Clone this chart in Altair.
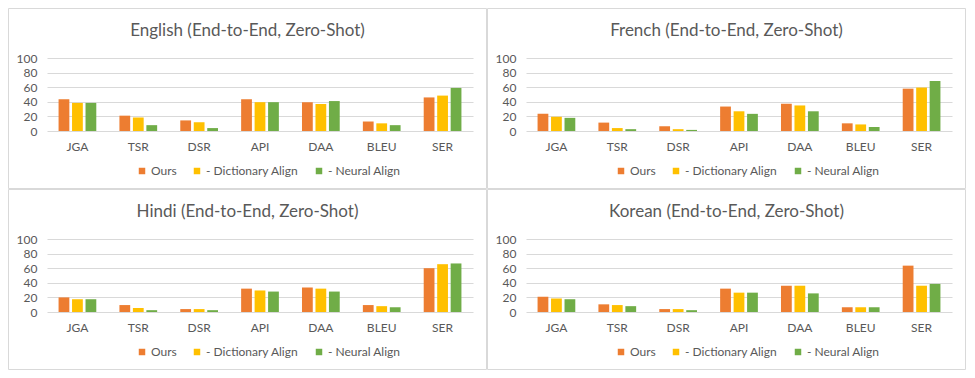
import altair as alt
import pandas as pd

metrics = ["JGA", "TSR", "DSR", "API", "DAA", "BLEU", "SER"]
series = ["Ours", "- Dictionary Align", "- Neural Align"]
colors = ["#ED7D31", "#FFC000", "#70AD47"]

titles = [
    "English (End-to-End, Zero-Shot)",
    "French (End-to-End, Zero-Shot)",
    "Hindi (End-to-End, Zero-Shot)",
    "Korean (End-to-End, Zero-Shot)",
]

english_ours = [43.5, 21, 14.5, 43.5, 39.5, 13, 46]
english_dict = [38.5, 18.5, 12, 39.5, 37, 10.5, 48.5]
english_neural = [38.5, 8, 4, 39.5, 41, 8, 59]

french_ours = [23.5, 11.5, 6.5, 33.5, 37.5, 10.5, 58]
french_dict = [19.5, 4, 2.5, 27, 35, 9, 59.5]
french_neural = [18, 2.5, 1.5, 23.5, 27, 5.5, 68.5]

hindi_ours = [20, 9.5, 4, 32, 33.5, 9.5, 60]
hindi_dict = [17.5, 5.5, 4, 29.5, 32, 8, 65.5]
hindi_neural = [17.5, 2.5, 2.5, 28, 28, 6.5, 66.5]

korean_ours = [21, 10.5, 4, 32, 36, 6.5, 63.5]
korean_dict = [18.5, 9.5, 4, 26.5, 36, 6.5, 36]
korean_neural = [17.5, 8, 2.5, 26.5, 25.5, 6.5, 38.5]

FONT = "Lato"
TXT = "#595959"
GRID = "#d9d9d9"

W, H = 426, 73
PL, PT, PR, PB = 39, 50, 14, 58


def panel(title, ours, dct, neural):
    df = pd.DataFrame({
        "metric": metrics * 3,
        "series": [s for s in series for _ in metrics],
        "value": ours + dct + neural,
    })
    frame = alt.Chart(alt.Data(values=[{"f": 1}])).mark_rect(
        fillOpacity=0, stroke=GRID, strokeWidth=1
    ).encode(
        x=alt.value(-PL + 0.5), x2=alt.value(W + PR - 0.5),
        y=alt.value(-PT + 0.5), y2=alt.value(H + PB - 0.5),
    )
    bars = alt.Chart(df).mark_bar().encode(
        x=alt.X("metric:N", sort=metrics,
                scale=alt.Scale(paddingInner=0.38, paddingOuter=0.19),
                axis=alt.Axis(title=None, labelAngle=0, ticks=False, domain=False,
                              labelPadding=10, labelFontSize=12, labelColor=TXT,
                              labelFont=FONT, grid=False)),
        xOffset=alt.XOffset("series:N", sort=series, scale=alt.Scale(paddingInner=0.2)),
        y=alt.Y("value:Q", scale=alt.Scale(domain=[0, 100]),
                axis=alt.Axis(title=None, values=[0, 20, 40, 60, 80, 100], ticks=False,
                              domain=False, gridColor=GRID, labelPadding=10,
                              labelFontSize=12, labelColor=TXT, labelFont=FONT)),
        color=alt.Color("series:N", sort=series,
                        scale=alt.Scale(domain=series, range=colors),
                        legend=alt.Legend(orient="none", legendX=89, legendY=107,
                                          direction="horizontal", title=None,
                                          symbolType="square", symbolSize=42,
                                          symbolStrokeWidth=0, labelOffset=3,
                                          columnPadding=14, labelFontSize=12,
                                          labelColor=TXT, labelFont=FONT)),
    )
    ttl = alt.Chart(alt.Data(values=[{"t": title}])).mark_text(
        font=FONT, fontSize=17, color=TXT, baseline="middle", align="center"
    ).encode(
        text="t:N", x=alt.value(W / 2 - 12.5), y=alt.value(-27),
    )
    return alt.layer(frame, bars, ttl).properties(width=W, height=H)


p1 = panel(titles[0], english_ours, english_dict, english_neural)
p2 = panel(titles[1], french_ours, french_dict, french_neural)
p3 = panel(titles[2], hindi_ours, hindi_dict, hindi_neural)
p4 = panel(titles[3], korean_ours, korean_dict, korean_neural)

row1 = alt.hconcat(p1, p2, spacing=0).resolve_scale(color="independent").resolve_legend(color="independent")
row2 = alt.hconcat(p3, p4, spacing=0).resolve_scale(color="independent").resolve_legend(color="independent")

chart = alt.vconcat(row1, row2, spacing=0).resolve_scale(
    color="independent"
).resolve_legend(color="independent").properties(
    padding=0, background="white"
).configure_view(strokeWidth=0)

chart.save("out.html", embed_options={"renderer": "svg", "actions": False})
